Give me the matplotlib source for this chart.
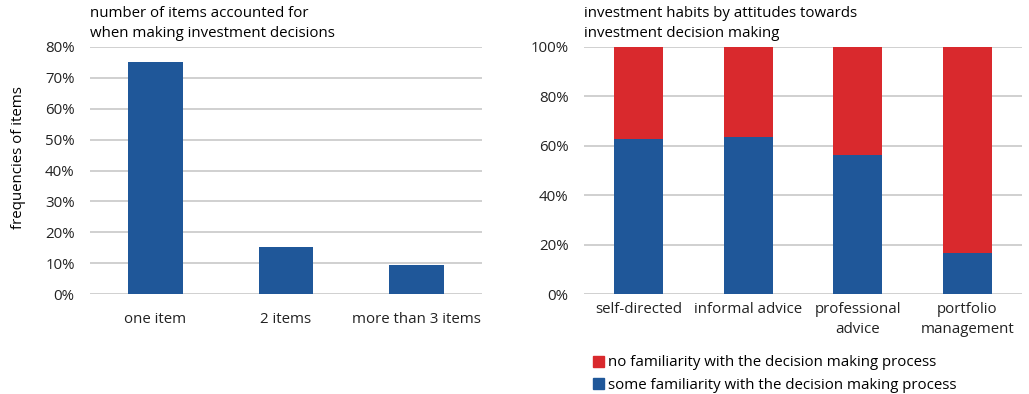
import numpy as np
import matplotlib.pyplot as plt
from matplotlib.patches import Patch

plt.rcParams['font.family'] = ['Open Sans', 'DejaVu Sans']
plt.rcParams['font.size'] = 10.8

# left chart data
items_labels = ["one item", "2 items", "more than 3 items"]
items_share = [75.1, 15.3, 9.4]

# right chart data
habit_labels = ["self-directed", "informal advice", "professional\nadvice", "portfolio\nmanagement"]
some_familiar = [62.6, 63.7, 56.1, 16.6]
no_familiar = [100 - v for v in some_familiar]

blue = "#1f5799"
red = "#d9292d"
grid_col = "#c8c8c8"

fig = plt.figure(figsize=(10.29, 3.94), dpi=100)
ax1 = fig.add_axes([90 / 1029, 1 - 294 / 394, 392 / 1029, 247 / 394])
ax2 = fig.add_axes([584 / 1029, 1 - 294 / 394, 438 / 1029, 247 / 394])


def style(ax):
    for s in ax.spines.values():
        s.set_visible(False)
    ax.tick_params(length=0, labelsize=10.8, colors="#222222")
    ax.yaxis.grid(True, color=grid_col, lw=1.2)
    ax.set_axisbelow(True)


x1 = np.arange(len(items_labels))
ax1.bar(x1, items_share, width=0.42, color=blue)
style(ax1)
ax1.set_ylim(0, 80)
ax1.set_xlim(-0.5, 2.5)
ax1.set_yticks(np.arange(0, 81, 10))
ax1.set_yticklabels([f"{v}%" for v in range(0, 81, 10)])
ax1.set_xticks(x1)
ax1.set_xticklabels(items_labels)
ax1.tick_params(axis="x", pad=13)
ax1.tick_params(axis="y", pad=11)
ax1.set_ylabel("frequencies of items")
ax1.yaxis.set_label_coords(-0.163, 0.553)
ax1.text(0, 1.025, "number of items accounted for\nwhen making investment decisions",
         transform=ax1.transAxes, ha="left", va="bottom", linespacing=1.45)

x2 = np.arange(len(habit_labels))
ax2.bar(x2, some_familiar, width=0.45, color=blue)
ax2.bar(x2, no_familiar, width=0.45, bottom=some_familiar, color=red)
style(ax2)
ax2.set_ylim(0, 100)
ax2.set_xlim(-0.5, 3.5)
ax2.set_yticks(np.arange(0, 101, 20))
ax2.set_yticklabels([f"{v}%" for v in range(0, 101, 20)])
ax2.set_xticks(x2)
ax2.set_xticklabels(habit_labels, linespacing=1.45)
ax2.tick_params(axis="x", pad=6)
ax2.tick_params(axis="y", pad=11)
ax2.text(0, 1.025, "investment habits by attitudes towards\ninvestment decision making",
         transform=ax2.transAxes, ha="left", va="bottom", linespacing=1.45)

handles = [Patch(color=red, label="no familiarity with the decision making process"),
           Patch(color=blue, label="some familiarity with the decision making process")]
fig.legend(handles=handles, loc="upper left", bbox_to_anchor=(585 / 1029, 1 - 348 / 394),
           frameon=False, fontsize=10.8, handlelength=0.75, handleheight=0.75,
           handletextpad=0.3, labelspacing=0.5, borderpad=0)

fig.savefig("out.png", dpi=100)
